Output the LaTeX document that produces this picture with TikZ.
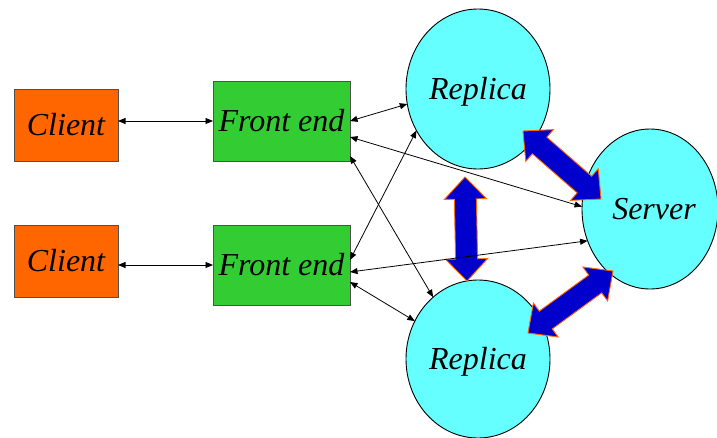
\documentclass[tikz,border=0pt]{standalone}
\usepackage{fontspec}
\setmainfont{Liberation Serif}
\usepackage{tikz}
\usetikzlibrary{shapes.geometric,arrows.meta,calc}

\definecolor{clientorange}{HTML}{FF6600}
\definecolor{frontgreen}{HTML}{33CC33}
\definecolor{replicacyan}{HTML}{66FFFF}
\definecolor{syncblue}{HTML}{0000CC}
\definecolor{boxgray}{HTML}{505050}

% wide two-headed arrow between two points
\newcommand{\fatarrow}[2]{%
  \filldraw[bigarrow] (#1)
    -- ($(#1)!22pt!(#2)!21pt!90:(#2)$)
    -- ($(#1)!22pt!(#2)!11pt!90:(#2)$)
    -- ($(#2)!22pt!(#1)!11pt!-90:(#1)$)
    -- ($(#2)!22pt!(#1)!21pt!-90:(#1)$)
    -- (#2)
    -- ($(#2)!22pt!(#1)!21pt!90:(#1)$)
    -- ($(#2)!22pt!(#1)!11pt!90:(#1)$)
    -- ($(#1)!22pt!(#2)!11pt!-90:(#2)$)
    -- ($(#1)!22pt!(#2)!21pt!-90:(#2)$)
    -- cycle;}

\begin{document}
\begin{tikzpicture}[x=1pt,y=-1pt,
  txt/.style={font=\fontsize{32}{38}\selectfont\itshape},
  box/.style={draw=boxgray,line width=1pt,inner sep=0pt,outer sep=0pt,txt},
  client/.style={box,fill=clientorange,minimum width=104pt,minimum height=72pt},
  frontend/.style={box,fill=frontgreen,minimum width=137pt,minimum height=80pt},
  rm/.style={ellipse,draw=black,line width=0.9pt,fill=replicacyan,inner sep=0pt,outer sep=0pt,
    text height=28pt,text depth=7pt,txt},
  link/.style={line width=0.8pt,{Triangle[length=7.5pt,width=6pt]}-{Triangle[length=7.5pt,width=6pt]}},
  bigarrow/.style={fill=syncblue,draw=clientorange,line width=0.9pt,line join=miter}]

  \useasboundingbox (0,0) rectangle (717,437);

  \node[client] (cl1) at (66,125) {Client};
  \node[client] (cl2) at (66,261) {Client};

  \node[frontend] (fe1) at (281.5,121) {Front end};
  \node[frontend] (fe2) at (281.5,265) {Front end};

  \node[rm,minimum width=144pt,minimum height=160pt] (rep1) at (478,89) {Replica};
  \node[rm,minimum width=144pt,minimum height=158pt] (rep2) at (478,359) {Replica};
  \node[rm,minimum width=136pt,minimum height=160pt] (srv) at (650,209) {\hspace*{8pt}Server};

  \coordinate (ra) at (523,131);
  \coordinate (sa) at (601,199);
  \coordinate (rb) at (465,177);
  \coordinate (pb) at (467,281);
  \coordinate (sc) at (613,271);
  \coordinate (pc) at (528,333);

  \fatarrow{ra}{sa}
  \fatarrow{rb}{pb}
  \fatarrow{sc}{pc}

  \draw[link] (cl1.east |- fe1.west) -- (fe1.west);
  \draw[link] (cl2.east |- fe2.west) -- (fe2.west);

  \draw[link] (fe1.east) -- (rep1.192);
  \draw[link] ([yshift=-16pt]fe1.east) -- (srv.178);
  \draw[link] ([yshift=-35pt]fe1.east) -- (rep2.126);

  \draw[link] ([yshift=5pt]fe2.east) -- (rep1.214);
  \draw[link] ([yshift=-7pt]fe2.east) -- (srv.207);
  \draw[link] ([yshift=-17pt]fe2.east) -- (rep2.149);

\end{tikzpicture}
\end{document}
